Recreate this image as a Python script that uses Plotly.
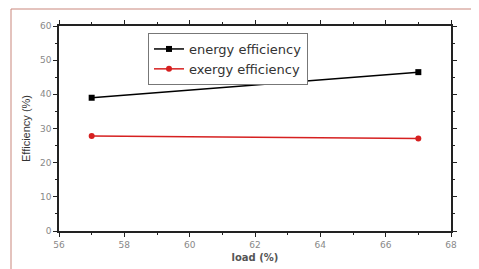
import plotly.graph_objects as go

load = [57, 67]
energy_eff = [39.0, 46.5]
exergy_eff = [27.8, 27.1]
x_ticks = [56, 58, 60, 62, 64, 66, 68]
y_ticks = [0, 10, 20, 30, 40, 50, 60]

# window size; the page body adds an 8px offset, so the figure is shrunk by it
W, H = 479, 269
OFF = 8
L, R, T, B = 59, 28, 26, 38          # desired plot-area margins in window pixels
pw, ph = W - L - R, H - T - B

fig = go.Figure()
fig.add_trace(go.Scatter(x=load, y=energy_eff, mode="lines+markers", name="energy efficiency",
                         line=dict(color="black", width=1.5),
                         marker=dict(symbol="square", size=6, color="black")))
fig.add_trace(go.Scatter(x=load, y=exergy_eff, mode="lines+markers", name="exergy efficiency",
                         line=dict(color="#d62020", width=1.5),
                         marker=dict(symbol="circle", size=6, color="#d62020")))

axis_common = dict(showgrid=False, zeroline=False, showline=True, linecolor="#222", linewidth=1.5,
                   mirror="ticks", ticks="outside", ticklen=4, tickwidth=1, tickcolor="#222",
                   automargin=False,
                   tickfont=dict(family="DejaVu Sans", size=9, color="#888"))

fig.update_xaxes(range=[56, 68], tickvals=x_ticks,
                 minor=dict(ticks="outside", ticklen=2, dtick=1, tickcolor="#222"),
                 title=dict(text="<b>load (%)</b>", font=dict(family="DejaVu Sans", size=10, color="#555"),
                            standoff=5),
                 **axis_common)
fig.update_yaxes(range=[0, 60], tickvals=y_ticks,
                 minor=dict(ticks="outside", ticklen=2, dtick=5, tickcolor="#222"),
                 title=dict(text="Efficiency (%)", font=dict(family="Liberation Sans Narrow, Arial Narrow, Liberation Sans", size=11, color="#333"),
                            standoff=7),
                 **axis_common)

# outer reddish frame (top and left edges)
fx0 = (11 - L) / pw
fy1 = 1 + (T - 9) / ph
fig.add_shape(type="line", xref="paper", yref="paper", x0=fx0, x1=(W - L) / pw, y0=fy1, y1=fy1,
              line=dict(color="#c9877c", width=1))
fig.add_shape(type="line", xref="paper", yref="paper", x0=fx0, x1=fx0, y0=fy1, y1=-B / ph,
              line=dict(color="#c9877c", width=1))

fig.update_layout(
    template="none",
    width=W - OFF, height=H - OFF,
    margin=dict(l=L - OFF, r=R, t=T - OFF, b=B, pad=0),
    paper_bgcolor="white", plot_bgcolor="white",
    showlegend=True,
    legend=dict(x=(148 - L) / pw, y=(231 - 33) / ph, xanchor="left", yanchor="top",
                bordercolor="#777", borderwidth=1, bgcolor="white",
                font=dict(family="DejaVu Sans", size=13, color="#333"),
                tracegroupgap=0, itemwidth=30),
)

fig.write_html("out.html")
